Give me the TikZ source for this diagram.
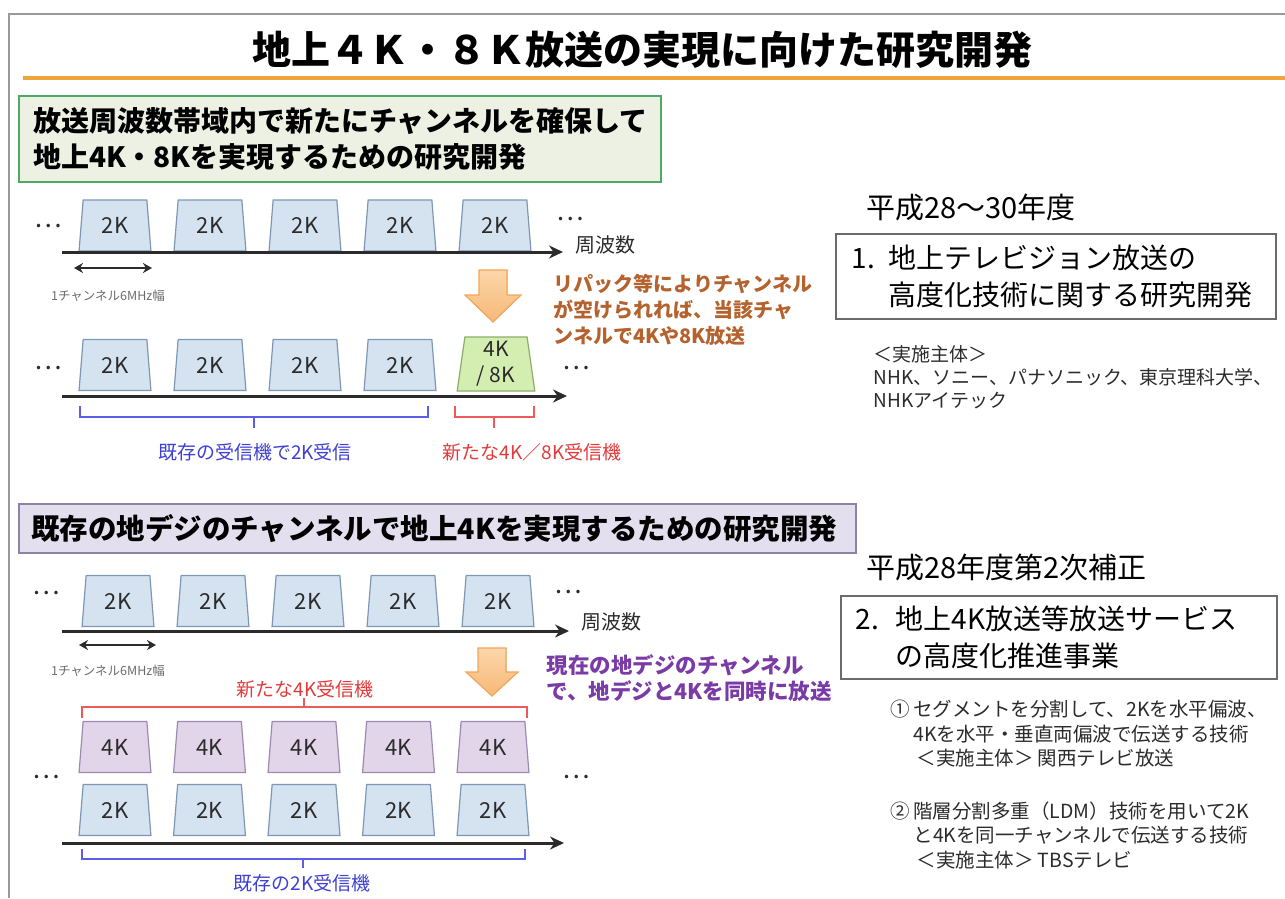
\documentclass[tikz,border=0pt]{standalone}
\usepackage{fontspec}
\setmainfont{Noto Sans CJK JP}
\usetikzlibrary{shapes.geometric,arrows.meta}

\definecolor{framegray}{HTML}{9A9A9A}
\definecolor{titleorange}{HTML}{EFA43C}
\definecolor{greenedge}{HTML}{4FA864}
\definecolor{greenfill}{HTML}{ECF1E4}
\definecolor{violetedge}{HTML}{8C83A8}
\definecolor{violetfill}{HTML}{E4DFEE}
\definecolor{chanblue}{HTML}{D5E2F0}
\definecolor{chanblueedge}{HTML}{7D97B5}
\definecolor{chanviolet}{HTML}{E2D5EA}
\definecolor{chanvioletedge}{HTML}{9C8BB0}
\definecolor{changreen}{HTML}{D4EDB0}
\definecolor{changreenedge}{HTML}{8CAD6A}
\definecolor{darktext}{HTML}{2B2B2B}
\definecolor{notebrown}{HTML}{B4622E}
\definecolor{notepurple}{HTML}{7A3BA6}
\definecolor{bracketblue}{HTML}{5D5DE8}
\definecolor{labelblue}{HTML}{3F3FD4}
\definecolor{bracketred}{HTML}{EE5A5A}
\definecolor{labelred}{HTML}{E23A3A}
\definecolor{arrowlight}{HTML}{FCD6AA}
\definecolor{arrowdark}{HTML}{F6B877}
\definecolor{arrowedge}{HTML}{F2A65A}

\tikzset{
  chan2k/.style={trapezium, trapezium left angle=84, trapezium right angle=84,
    trapezium stretches=true, minimum width=72pt, minimum height=51pt, inner sep=0pt,
    draw=chanblueedge, fill=chanblue, line width=1.2pt, text=darktext,
    font=\fontsize{22}{24}\selectfont},
  chan4k/.style={chan2k, draw=chanvioletedge, fill=chanviolet},
  chan48/.style={chan2k, draw=changreenedge, fill=changreen, align=center,
    minimum width=78pt, minimum height=54pt, font=\fontsize{21}{26}\selectfont},
  headbox/.style={draw, line width=2pt, anchor=north west, align=left, inner ysep=0pt,
    font=\fontsize{28}{36}\selectfont\bfseries},
  planbox/.style={draw=darktext!70, line width=1.5pt, anchor=north west, align=left,
    inner ysep=0pt, font=\fontsize{28}{37}\selectfont},
  axis/.style={line width=3pt, draw=darktext, -{Stealth[length=14pt,width=13pt]}},
  chanwidth/.style={line width=2.2pt, draw=darktext, {Stealth[length=9pt,width=10pt]}-{Stealth[length=9pt,width=10pt]}},
  dots/.style={font=\fontsize{26}{30}\selectfont, text=darktext},
  freq/.style={anchor=west, font=\fontsize{20}{24}\selectfont, text=darktext},
  small/.style={font=\fontsize{12.5}{15}\selectfont, text=darktext!70},
  bluebr/.style={line width=1.3pt, draw=bracketblue},
  redbr/.style={line width=1.3pt, draw=bracketred},
  bluelabel/.style={font=\fontsize{19}{22}\selectfont, text=labelblue},
  redlabel/.style={font=\fontsize{19}{22}\selectfont, text=labelred},
  downarrow/.style={line width=1.2pt, draw=arrowedge, top color=arrowlight, bottom color=arrowdark},
  note/.style={anchor=west, align=left, font=\fontsize{20}{26}\selectfont\bfseries},
  info/.style={anchor=west, align=left, text=darktext, font=\fontsize{19.5}{24.5}\selectfont}
}

\begin{document}
\begin{tikzpicture}[x=1pt,y=-1pt]
        \useasboundingbox (0,0) rectangle (1285,898);
        % draw the page frame and the title rule
        \draw[framegray, line width=1.5pt] (9,898) -- (9,14) -- (1285,14);
        \draw[titleorange, line width=4pt] (23,78) -- (1285,78);
        \node (title) at (642,50) [font=\fontsize{39}{42}\selectfont\bfseries] {地上４Ｋ・８Ｋ放送の実現に向けた研究開発};

        % draw the first heading
        \node (head1) [headbox, draw=greenedge, fill=greenfill, minimum width=642pt, minimum height=86pt,
          text width=614pt, inner xsep=14pt] at (18,95)
          {放送周波数帯域内で新たにチャンネルを確保して\\地上4K・8Kを実現するための研究開発};

        % draw the channels of today
        \foreach \i in {0,...,4}
        \node (ra\i) [chan2k] at ({115+95*\i},225.5) {2K};
        \node (dota0) [dots] at (48,226) {…};
        \node (dota1) [dots] at (570,219) {…};
        \coordinate (axa0) at (62,252);
        \coordinate (axa1) at (563,252);
        \draw[axis] (axa0) -- (axa1);
        \node (fqa) [freq] at (572,245) {周波数};
        \coordinate (cwa0) at (74,268);
        \coordinate (cwa1) at (152,268);
        \draw[chanwidth] (cwa0) -- (cwa1);
        \node (wa) [small] at (108,296) {1チャンネル6MHz幅};

        % draw the arrow and its note
        \coordinate (dn1) at (493,270);
        \filldraw[downarrow] (dn1) ++(-14,0) -- ++(28,0) -- ++(0,25) -- ++(14,0) -- ++(-28,27)
          -- ++(-28,-27) -- ++(14,0) -- cycle;
        \node (note1) [note, text=notebrown] at (550,310)
          {リパック等によりチャンネル\\が空けられれば、当該チャ\\ンネルで4Kや8K放送};

        % draw the channels after repacking
        \foreach \i in {0,...,3}
        \node (rb\i) [chan2k] at ({115+95*\i},365) {2K};
        \node (rb4) [chan48] at (496,364) {4K\\/ 8K};
        \node (dotb0) [dots] at (48,368) {…};
        \node (dotb1) [dots] at (576,368) {…};
        \coordinate (axb0) at (62,396);
        \coordinate (axb1) at (567,396);
        \draw[axis] (axb0) -- (axb1);

        % draw the receivers
        \draw[bluebr] (80,406) -- (80,417) -- (428,417) -- (428,406);
        \draw[bluebr] (254,417) -- (254,428);
        \node (rxa) [bluelabel] at (255,452) {既存の受信機で2K受信};
        \draw[redbr] (455,406) -- (455,417) -- (534,417) -- (534,406);
        \draw[redbr] (494,417) -- (494,428);
        \node (rxb) [redlabel] at (532,452) {新たな4K／8K受信機};

        % draw the first plan
        \node (yr1) [anchor=west, font=\fontsize{29}{32}\selectfont] at (863,208) {平成28～30年度};
        \node (plan1) [planbox, minimum width=440pt, minimum height=85pt, text width=408pt,
          inner xsep=16pt] at (835,233)
          {\makebox[37pt][l]{1.}地上テレビジョン放送の\\\hspace*{37pt}高度化技術に関する研究開発};
        \node (who1) [info, font=\fontsize{19}{23}\selectfont] at (870,377)
          {＜実施主体＞\\NHK、ソニー、パナソニック、東京理科大学、\\NHKアイテック};

        % draw the second heading
        \node (head2) [headbox, draw=violetedge, fill=violetfill, minimum width=837pt, minimum height=49pt,
          text width=813pt, inner xsep=12pt, font=\fontsize{28.5}{34}\selectfont\bfseries] at (18,503)
          {既存の地デジのチャンネルで地上4Kを実現するための研究開発};

        % draw the channels of today
        \foreach \i in {0,...,4}
        \node (rc\i) [chan2k] at ({118+95*\i},601) {2K};
        \node (dotc0) [dots] at (46,593) {…};
        \node (dotc1) [dots] at (568,592) {…};
        \coordinate (axc0) at (62,631);
        \coordinate (axc1) at (569,631);
        \draw[axis] (axc0) -- (axc1);
        \node (fqc) [freq] at (578,622) {周波数};
        \coordinate (cwc0) at (79,645);
        \coordinate (cwc1) at (156,645);
        \draw[chanwidth] (cwc0) -- (cwc1);
        \node (wc) [small] at (108,671) {1チャンネル6MHz幅};

        % draw the arrow and its note
        \coordinate (dn2) at (492,648);
        \filldraw[downarrow] (dn2) ++(-14,0) -- ++(28,0) -- ++(0,24) -- ++(12,0) -- ++(-26,24)
          -- ++(-26,-24) -- ++(12,0) -- cycle;
        \node (note2) [note, text=notepurple, font=\fontsize{21.5}{26}\selectfont\bfseries] at (543,678)
          {現在の地デジのチャンネル\\で、地デジと4Kを同時に放送};

        % draw the layered channels
        \node (rxc) [redlabel] at (305,689) {新たな4K受信機};
        \draw[redbr] (82,718) -- (82,707) -- (527,707) -- (527,718);
        \draw[redbr] (304,707) -- (304,698);
        \foreach \i in {0,...,4}
        {
        \node (rd\i) [chan4k] at ({115+94.5*\i},747) {4K};
        \node (re\i) [chan2k] at ({115+94.5*\i},810) {2K};
        }
        \node (dotd0) [dots] at (46,777) {…};
        \node (dotd1) [dots] at (576,777) {…};
        \coordinate (axd0) at (62,843);
        \coordinate (axd1) at (564,843);
        \draw[axis] (axd0) -- (axd1);
        \draw[bluebr] (82,849) -- (82,859) -- (525,859) -- (525,849);
        \draw[bluebr] (303,859) -- (303,868);
        \node (rxd) [bluelabel] at (302,883) {既存の2K受信機};

        % draw the second plan
        \node (yr2) [anchor=west, font=\fontsize{29}{32}\selectfont] at (863,567) {平成28年度第2次補正};
        \node (plan2) [planbox, minimum width=436pt, minimum height=83pt, text width=406pt,
          inner xsep=15pt] at (840,595)
          {\makebox[40pt][l]{2.}地上4K放送等放送サービス\\\hspace*{40pt}の高度化推進事業};
        \node (item1) [info] at (887,734)
          {①\,セグメントを分割して、2Kを水平偏波、\\\hspace*{23pt}4Kを水平・垂直両偏波で伝送する技術\\\hspace*{26pt}＜実施主体＞ 関西テレビ放送};
        \node (item2) [info] at (887,835)
          {②\,階層分割多重（LDM）技術を用いて2K\\\hspace*{23pt}と4Kを同一チャンネルで伝送する技術\\\hspace*{26pt}＜実施主体＞ TBSテレビ};
\end{tikzpicture}
\end{document}
